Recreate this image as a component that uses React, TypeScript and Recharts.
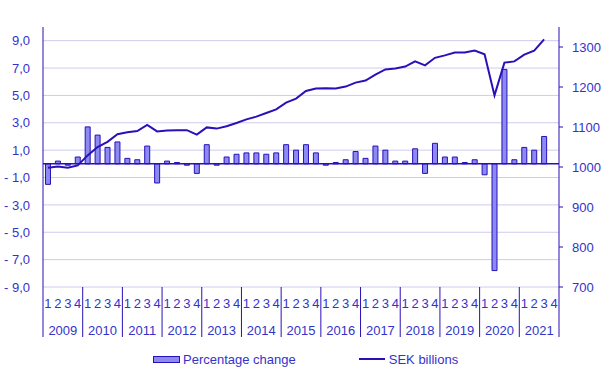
import React from "react";
import {
  ComposedChart, Bar, Line, XAxis, YAxis, CartesianGrid,
  ReferenceLine, Legend,
} from "recharts";

const years = ["2009", "2010", "2011", "2012", "2013", "2014", "2015", "2016", "2017", "2018", "2019", "2020", "2021"];
const quarters = [1, 2, 3, 4];

// Percentage change, quarter on quarter
const pctChange: (number | null)[] = [
  -1.5, 0.2, -0.1, 0.5,
  2.7, 2.1, 1.2, 1.6,
  0.4, 0.3, 1.3, -1.4,
  0.2, 0.1, -0.1, -0.7,
  1.4, -0.1, 0.5, 0.7,
  0.8, 0.8, 0.7, 0.8,
  1.4, 1.0, 1.4, 0.8,
  -0.1, 0.1, 0.3, 0.9,
  0.4, 1.3, 1.0, 0.2,
  0.2, 1.1, -0.7, 1.5,
  0.5, 0.5, 0.1, 0.3,
  -0.8, -7.8, 6.9, 0.3,
  1.2, 1.0, 2.0, null,
];

// SEK billions
const sekBillions: (number | null)[] = [
  998, 1001, 998, 1004,
  1029, 1050, 1063, 1082,
  1087, 1090, 1105, 1089,
  1091, 1092, 1092, 1081,
  1099, 1096, 1102, 1110,
  1119, 1126, 1135, 1144,
  1161, 1171, 1190, 1196,
  1197, 1196, 1201, 1211,
  1216, 1231, 1244, 1246,
  1251, 1264, 1254, 1273,
  1279, 1286, 1286, 1291,
  1282, 1179, 1261, 1264,
  1281, 1291, 1319, null,
];

const leftTicks = [-9, -7, -5, -3, -1, 1, 3, 5, 7, 9];
const rightTicks = [700, 800, 900, 1000, 1100, 1200, 1300];

const data = years.flatMap((y, yi) =>
  quarters.map((q, qi) => ({
    key: `${y}-${q}`,
    year: y,
    quarter: q,
    pct: pctChange[yi * 4 + qi],
    sek: sekBillions[yi * 4 + qi],
  }))
);

const FONT = "'Liberation Sans', Arial, sans-serif";
const TEXT = "#3333cc";
const DARK = "#2a10b8";
const BAR_FILL = "#8a8af0";
const GRID = "#ccccee";

const fmtLeft = (v: number) => {
  const s = Math.abs(v).toFixed(1).replace(".", ",");
  return v < 0 ? `- ${s}` : s;
};

const QuarterTick = (props: any) => {
  const { x, y, payload } = props;
  const row = data[payload.index];
  const half = payload.offset || 4.97;
  const last = payload.index === data.length - 1;
  return (
    <g>
      <text x={x} y={y + 21} textAnchor="middle" fill={TEXT} fontSize={13} fontFamily={FONT}>
        {row.quarter}
      </text>
      {row.quarter === 1 && (
        <line x1={x - half} x2={x - half} y1={y} y2={y + 50} stroke={DARK} strokeWidth={1} />
      )}
      {last && (
        <line x1={x + half} x2={x + half} y1={y} y2={y + 50} stroke={DARK} strokeWidth={1} />
      )}
      {row.quarter === 3 && (
        <text x={x - half} y={y + 48} textAnchor="middle" fill={TEXT} fontSize={13} fontFamily={FONT}>
          {row.year}
        </text>
      )}
    </g>
  );
};

const LegendContent = () => (
  <div style={{ height: 20, display: "flex", alignItems: "center", paddingLeft: 153, fontFamily: FONT, fontSize: 13, color: TEXT }}>
    <span style={{ display: "inline-block", width: 25, height: 5, background: BAR_FILL, border: `1px solid ${DARK}` }} />
    <span style={{ marginLeft: 3 }}>Percentage change</span>
    <span style={{ display: "inline-block", width: 26, height: 2, background: DARK, marginLeft: 63 }} />
    <span style={{ marginLeft: 4 }}>SEK billions</span>
  </div>
);

export default function App() {
  return (
    <div style={{ position: "absolute", left: 0, top: 0 }}>
      <ComposedChart
        width={604}
        height={369}
        data={data}
        margin={{ top: 27, right: 0, bottom: 0, left: 0 }}
        barCategoryGap="25%"
      >
        <CartesianGrid yAxisId="left" vertical={false} stroke={GRID} horizontalValues={leftTicks} />
        <XAxis
          dataKey="key"
          interval={0}
          height={62}
          tickSize={0}
          tickMargin={0}
          axisLine={false}
          tickLine={false}
          tick={<QuarterTick />}
        />
        <YAxis
          yAxisId="left"
          domain={[-9, 10]}
          ticks={leftTicks}
          width={43}
          tickSize={0}
          tickMargin={13}
          tickLine={false}
          axisLine={{ stroke: DARK }}
          tickFormatter={fmtLeft}
          tick={{ fill: TEXT, fontSize: 13, fontFamily: FONT }}
        />
        <YAxis
          yAxisId="right"
          orientation="right"
          domain={[700, 1350]}
          ticks={rightTicks}
          width={45}
          tickSize={4}
          tickMargin={9}
          tickLine={{ stroke: DARK }}
          axisLine={{ stroke: DARK }}
          tick={{ fill: TEXT, fontSize: 13, fontFamily: FONT }}
        />
        <Bar
          yAxisId="left"
          dataKey="pct"
          fill={BAR_FILL}
          stroke={DARK}
          strokeWidth={1}
          isAnimationActive={false}
        />
        <ReferenceLine yAxisId="left" y={0} stroke={DARK} strokeWidth={1.5} />
        <Line
          yAxisId="right"
          dataKey="sek"
          type="linear"
          stroke={DARK}
          strokeWidth={2}
          dot={false}
          activeDot={false}
          isAnimationActive={false}
        />
        <Legend verticalAlign="bottom" content={<LegendContent />} />
      </ComposedChart>
    </div>
  );
}
